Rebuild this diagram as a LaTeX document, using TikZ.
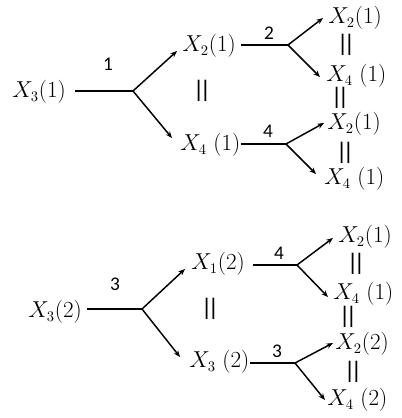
\documentclass[tikz,border=0pt]{standalone}
\usepackage{fontspec}
\newfontfamily\labfont{Carlito}
\newfontfamily\barfont{DejaVu Sans}
\usetikzlibrary{arrows.meta}
\tikzset{
  every picture/.style={x=0.75pt,y=-0.75pt},
  term/.style={anchor=west,inner sep=0pt,font=\fontsize{16}{19}\selectfont},
  num/.style={inner sep=0pt,font=\labfont\fontsize{14.5}{16}\selectfont},
  eqv/.style={inner sep=0pt,font=\barfont\fontsize{16}{18}\selectfont},
  conn/.style={line width=1.1pt},
  arr/.style={line width=1.1pt,-{Stealth[length=5pt,width=4pt]}}
}
\newcommand{\eqbars}{|\kern-0.4pt|}
\begin{document}
\begin{tikzpicture}
\useasboundingbox (0,0) rectangle (402,418);
% ---------- top tree ----------
\node[term] (a0) at (12,92) {$X_3(1)$};
\coordinate (fa) at (133,91);
\node[term] (a1) at (182,46) {$X_2(1)$};
\node[term] (a2) at (180,145) {$X_4~(1)$};
\node[num] (l1) at (108,64) {1};
\node[eqv] (e1) at (202,91) {\eqbars};
\draw[conn] ([xshift=7pt]a0.east |- fa) -- (fa);
\draw[arr] (fa) -- ([shift={(-5,5)}]a1.west);
\draw[arr] (fa) -- ([shift={(-8,-7)}]a2.west);

\coordinate (fb) at (288,45);
\coordinate (fc) at (286,144);
\node[num] (l2) at (269,33) {2};
\node[num] (l4) at (268,131) {4};
\draw[conn] ([xshift=4pt]a1.east |- fb) -- (fb);
\draw[conn] (a2.east |- fc) -- (fc);

\node[term] (b1) at (328,18) {$X_2(1)$};
\node[term] (b2) at (326,76) {$X_4~(1)$};
\node[term] (b3) at (327,124) {$X_2(1)$};
\node[term] (b4) at (324,179) {$X_4~(1)$};
\node[eqv] (e2) at (346,45) {\eqbars};
\node[eqv] (e3) at (340,98) {\eqbars};
\node[eqv] (e4) at (345,153) {\eqbars};
\draw[arr] (fb) -- ([shift={(-5,0)}]b1.west);
\draw[arr] (fb) -- ([shift={(-6,1)}]b2.west);
\draw[arr] (fc) -- ([shift={(-3,-1)}]b3.west);
\draw[arr] (fc) -- ([shift={(-8,-5)}]b4.west);

% ---------- bottom tree ----------
\node[term] (c0) at (28,312) {$X_3(2)$};
\coordinate (fd) at (142,309);
\node[term] (c1) at (191,264) {$X_1(2)$};
\node[term] (c2) at (189,362) {$X_3~(2)$};
\node[num] (l3) at (115,284) {3};
\node[eqv] (e5) at (210,309) {\eqbars};
\draw[conn] ([xshift=4pt]c0.east |- fd) -- (fd);
\draw[arr] (fd) -- ([shift={(-6,5)}]c1.west);
\draw[arr] (fd) -- ([shift={(-9,-5)}]c2.west);

\coordinate (ff) at (297,265);
\coordinate (fe) at (295,363);
\node[num] (l4b) at (279,253) {4};
\node[num] (l3b) at (277,351) {3};
\draw[conn] ([xshift=6pt]c1.east |- ff) -- (ff);
\draw[conn] (c2.east |- fe) -- (fe);

\node[term] (d1) at (338,237) {$X_2(1)$};
\node[term] (d2) at (333,294) {$X_4~(1)$};
\node[term] (d3) at (335,344) {$X_2(2)$};
\node[term] (d4) at (327,400) {$X_4~(2)$};
\node[eqv] (e6) at (356,264) {\eqbars};
\node[eqv] (e7) at (348,317) {\eqbars};
\node[eqv] (e8) at (353,372) {\eqbars};
\draw[arr] (ff) -- ([shift={(-5,1)}]d1.west);
\draw[arr] (ff) -- ([shift={(-5,3)}]d2.west);
\draw[arr] (fe) -- ([shift={(-2,-1)}]d3.west);
\draw[arr] (fe) -- ([shift={(-2,0)}]d4.west);
\end{tikzpicture}
\end{document}
